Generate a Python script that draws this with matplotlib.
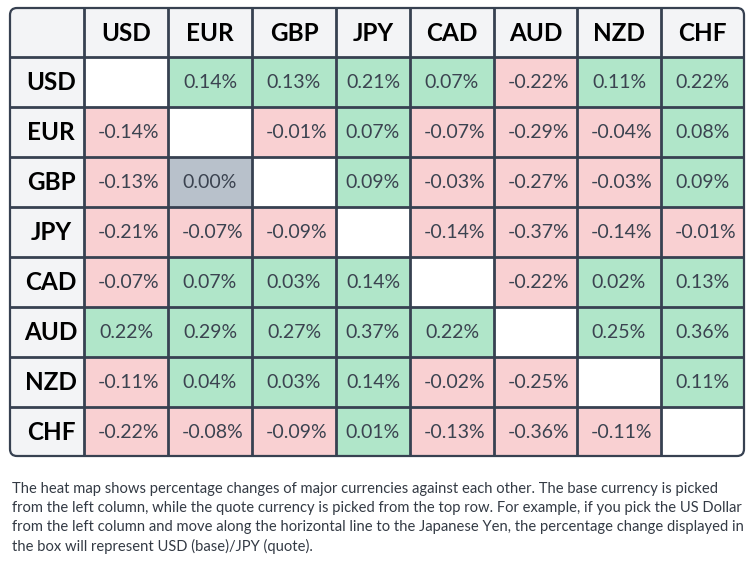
import matplotlib
matplotlib.use("Agg")
import matplotlib.pyplot as plt
from matplotlib.patches import Rectangle, FancyBboxPatch

currencies = ["USD", "EUR", "GBP", "JPY", "CAD", "AUD", "NZD", "CHF"]

# rows = base currency, columns = quote currency (percent change)
usd = [None, 0.14, 0.13, 0.21, 0.07, -0.22, 0.11, 0.22]
eur = [-0.14, None, -0.01, 0.07, -0.07, -0.29, -0.04, 0.08]
gbp = [-0.13, 0.00, None, 0.09, -0.03, -0.27, -0.03, 0.09]
jpy = [-0.21, -0.07, -0.09, None, -0.14, -0.37, -0.14, -0.01]
cad = [-0.07, 0.07, 0.03, 0.14, None, -0.22, 0.02, 0.13]
aud = [0.22, 0.29, 0.27, 0.37, 0.22, None, 0.25, 0.36]
nzd = [-0.11, 0.04, 0.03, 0.14, -0.02, -0.25, None, 0.11]
chf = [-0.22, -0.08, -0.09, 0.01, -0.13, -0.36, -0.11, None]
values = [usd, eur, gbp, jpy, cad, aud, nzd, chf]

caption = [
    "The heat map shows percentage changes of major currencies against each other. The base currency is picked",
    "from the left column, while the quote currency is picked from the top row. For example, if you pick the US Dollar",
    "from the left column and move along the horizontal line to the Japanese Yen, the percentage change displayed in",
    "the box will represent USD (base)/JPY (quote).",
]

GREEN = "#b0e6c9"
RED = "#f9d0d2"
GREY = "#b8c1cb"
HEAD_BG = "#f3f4f6"
LINE = "#374151"
TXT = "#3b4350"

# table geometry in pixels
col_edges = [10, 84, 168, 252, 336, 410, 494, 577, 661, 744]
row_edges = [8, 57, 107, 157, 207, 257, 307, 357, 407, 456]

plt.rcParams["font.family"] = ["Lato", "DejaVu Sans"]

fig = plt.figure(figsize=(7.48, 5.71), dpi=100)
ax = fig.add_axes([0, 0, 1, 1])
ax.set_xlim(0, 748)
ax.set_ylim(571, 0)
ax.axis("off")

x0, x1 = col_edges[0], col_edges[-1]
y0, y1 = row_edges[0], row_edges[-1]
frame = FancyBboxPatch((x0, y0), x1 - x0, y1 - y0,
                       boxstyle="round,pad=0,rounding_size=7",
                       facecolor=HEAD_BG, edgecolor="none", zorder=1)
ax.add_patch(frame)

for i, row in enumerate(values):
    for j, v in enumerate(row):
        cx0, cx1 = col_edges[j + 1], col_edges[j + 2]
        cy0, cy1 = row_edges[i + 1], row_edges[i + 2]
        if v is None:
            fc = "white"
        elif v > 0:
            fc = GREEN
        elif v < 0:
            fc = RED
        else:
            fc = GREY
        r = Rectangle((cx0, cy0), cx1 - cx0, cy1 - cy0, facecolor=fc,
                      edgecolor="none", zorder=2)
        r.set_clip_path(frame)
        ax.add_patch(r)
        if v is not None:
            shift = 3 if v < 0 else 0
            ax.text((cx0 + cx1) / 2 + shift, (cy0 + cy1) / 2 + 1,
                    f"{v:.2f}%", ha="center", va="center",
                    fontsize=14, color=TXT, zorder=4)

# headers
for j, c in enumerate(currencies):
    ax.text((col_edges[j + 1] + col_edges[j + 2]) / 2, (row_edges[0] + row_edges[1]) / 2 + 1,
            c, ha="center", va="center", fontsize=17.5, fontweight="bold",
            color="black", zorder=4)
for i, c in enumerate(currencies):
    ax.text((col_edges[0] + col_edges[1]) / 2 + 4, (row_edges[i + 1] + row_edges[i + 2]) / 2 + 1,
            c, ha="center", va="center", fontsize=17.5, fontweight="bold",
            color="black", zorder=4)

# grid lines
for x in col_edges[1:-1]:
    ax.plot([x, x], [y0, y1], color=LINE, lw=2, zorder=3, solid_capstyle="butt")
for y in row_edges[1:-1]:
    ax.plot([x0, x1], [y, y], color=LINE, lw=2, zorder=3, solid_capstyle="butt")
outline = FancyBboxPatch((x0, y0), x1 - x0, y1 - y0,
                         boxstyle="round,pad=0,rounding_size=7",
                         facecolor="none", edgecolor=LINE, lw=1.6, zorder=5)
ax.add_patch(outline)

for k, line in enumerate(caption):
    ax.text(12, 489 + k * 19, line, ha="left", va="center",
            fontsize=10.6, color="#333a44")

fig.savefig("out.png", dpi=100)
